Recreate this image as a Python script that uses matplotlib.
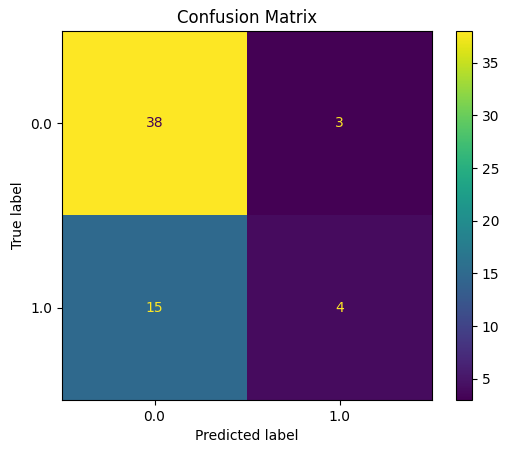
import numpy as np
import matplotlib
matplotlib.use("Agg")
import matplotlib.pyplot as plt

# confusion matrix values
labels = ["0.0", "1.0"]
counts = [[38, 3],
          [15, 4]]

cm = np.array(counts)
cmap = plt.get_cmap("viridis")

fig = plt.figure(figsize=(5.11, 4.53), dpi=100)
ax = fig.add_axes([62/511, 53/453, 370/511, 369/453])
cax = fig.add_axes([456/511, 53/453, 16/511, 369/453])

im = ax.imshow(cm, cmap=cmap, aspect="auto")
thresh = (cm.max() + cm.min()) / 2.0
for i in range(cm.shape[0]):
	for j in range(cm.shape[1]):
		# dark text on bright cells, bright text on dark ones
		color = cmap(0) if cm[i, j] >= thresh else cmap(1.0)
		ax.text(j, i, str(cm[i, j]), ha="center", va="center", color=color)

ax.set_xticks(range(len(labels)))
ax.set_xticklabels(labels)
ax.set_yticks(range(len(labels)))
ax.set_yticklabels(labels)
ax.set_xlabel("Predicted label")
ax.set_ylabel("True label")
ax.set_title("Confusion Matrix")

fig.colorbar(im, cax=cax)

fig.savefig("out.png", dpi=100)
